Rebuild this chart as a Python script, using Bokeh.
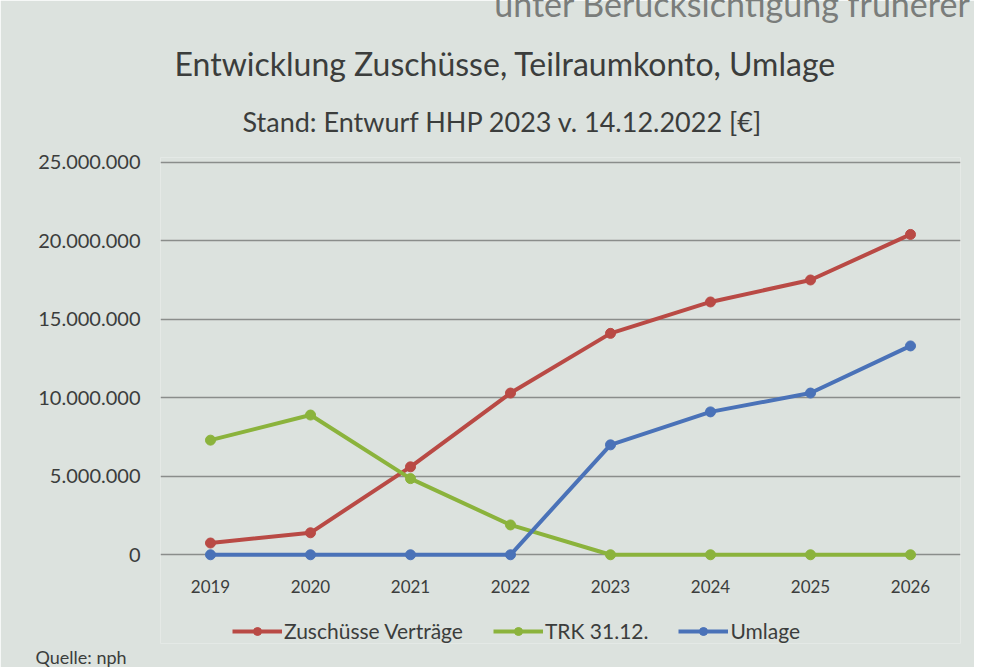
from bokeh.plotting import figure
from bokeh.models import (Range1d, FixedTicker, Legend, LegendItem, Title, Label)
from bokeh.embed import file_html
from bokeh.resources import INLINE

# ---- data ----
years = ["2019", "2020", "2021", "2022", "2023", "2024", "2025", "2026"]
zuschuesse = [750000, 1400000, 5600000, 10300000, 14100000, 16100000, 17500000, 20400000]
trk = [7300000, 8900000, 4850000, 1900000, 0, 0, 0, 0]
umlage = [0, 0, 0, 0, 7000000, 9100000, 10300000, 13300000]
series_names = ["Zuschüsse Verträge", "TRK 31.12.", "Umlage"]
y_ticks = [0, 5000000, 10000000, 15000000, 20000000, 25000000]
y_tick_labels = ["0", "5.000.000", "10.000.000", "15.000.000", "20.000.000", "25.000.000"]
title_text = "Entwicklung Zuschüsse, Teilraumkonto, Umlage"
subtitle_text = "Stand: Entwurf HHP 2023 v. 14.12.2022 [€]"
top_text = "unter Berücksichtigung früherer"
source_text = "Quelle: nph"

colors = ["#b94a45", "#8bb33c", "#4a72b8"]
BG = "#dce2de"
TXT = "#3b3d3c"
FONT = "Lato"

p = figure(x_range=years, y_range=Range1d(-5650000, 25300000),
           frame_width=800, frame_height=486,
           output_backend="svg", toolbar_location=None,
           min_border_left=160, min_border_right=14,
           min_border_top=147, min_border_bottom=0)
p.background_fill_color = BG
p.border_fill_color = BG
p.outline_line_color = None

# axes
p.yaxis.ticker = FixedTicker(ticks=y_ticks)
p.yaxis.major_label_overrides = {t: s for t, s in zip(y_ticks, y_tick_labels)}
for ax in (p.xaxis[0], p.yaxis[0]):
    ax.axis_line_color = None
    ax.major_tick_line_color = None
    ax.minor_tick_line_color = None
    ax.major_label_text_font = FONT
    ax.major_label_text_color = TXT
p.yaxis.major_label_text_font_size = "20px"
p.yaxis.major_label_standoff = 14
p.xaxis.fixed_location = 0
p.xaxis.major_label_text_font_size = "17px"
p.xaxis.major_label_standoff = 19

p.xgrid.visible = False
p.ygrid.grid_line_color = "#8a8d8b"
p.ygrid.grid_line_width = 1.5

items = []
for name, vals, c in zip(series_names, [zuschuesse, trk, umlage], colors):
    lr = p.line(years, vals, line_color=c, line_width=4)
    sr = p.scatter(years, vals, size=10, fill_color=c, line_color=c)
    items.append(LegendItem(label=name, renderers=[lr, sr]))

legend = Legend(items=items, orientation="horizontal", location=(72, 0),
                background_fill_alpha=0, border_line_alpha=0,
                label_text_font=FONT, label_text_font_size="21px",
                label_text_color=TXT, glyph_width=50, glyph_height=20,
                label_standoff=2, spacing=30, padding=0, margin=0)
p.add_layout(legend, "center")

# titles (first added = nearest to the plot)
p.add_layout(Title(text=subtitle_text, align="left", offset=82, standoff=40,
                   text_font=FONT, text_font_size="27px", text_font_style="normal",
                   text_color=TXT), "above")
p.add_layout(Title(text=title_text, align="left", offset=14, standoff=0,
                   text_font=FONT, text_font_size="32px", text_font_style="normal",
                   text_color=TXT), "above")
p.add_layout(Label(x=810, y=38, x_units="screen", y_units="screen", text=top_text,
                   text_align="right", text_baseline="alphabetic", text_font=FONT,
                   text_font_size="34px", text_color="#7a7d7b"), "above")
p.add_layout(Title(text=source_text, align="left", offset=-125, standoff=0,
                   text_font=FONT, text_font_size="18px", text_font_style="normal",
                   text_color=TXT), "below")

open("out.html", "w").write(file_html(p, INLINE))
